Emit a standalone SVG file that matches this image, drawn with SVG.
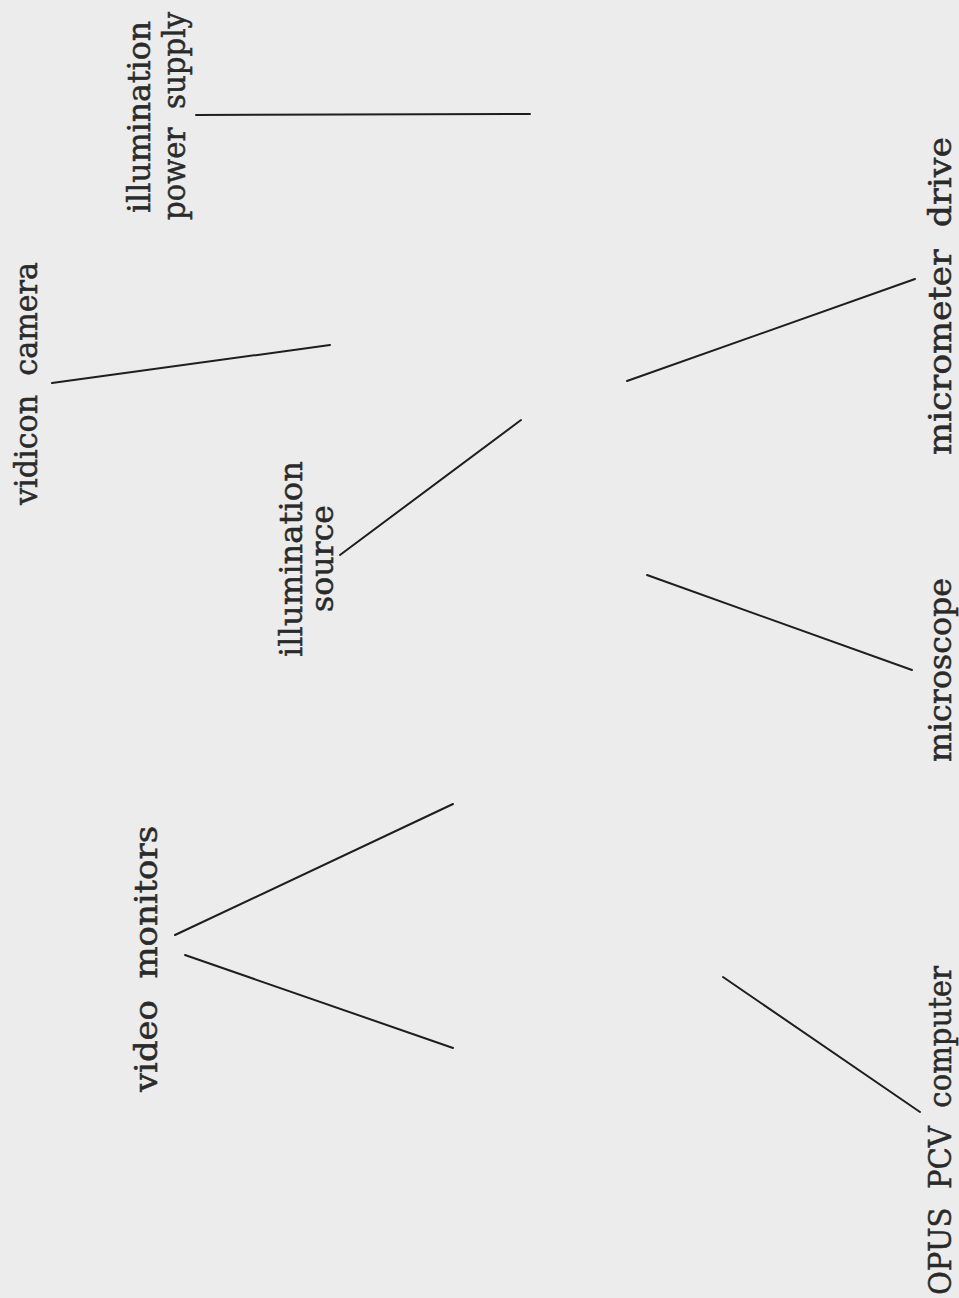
<svg xmlns="http://www.w3.org/2000/svg" width="959" height="1298" viewBox="0 0 959 1298">
<style>
.t{font-family:"DejaVu Serif","Liberation Serif",serif;font-size:32px;fill:#2a2a2a;stroke:#2a2a2a;stroke-width:0.5;white-space:pre}
.c line{stroke:#1e1e1e;stroke-width:2;stroke-linecap:round}
</style>
<rect width="959" height="1298" fill="#ececec"/>
<g id="illumination-power-supply">
<text class="t" transform="translate(150,213) rotate(-90)" textLength="192" lengthAdjust="spacingAndGlyphs">illumination</text>
<text class="t" transform="translate(185,220) rotate(-90)" textLength="208" lengthAdjust="spacingAndGlyphs" xml:space="preserve">power  supply</text>
</g>
<g id="vidicon-camera">
<text class="t" transform="translate(37,505) rotate(-90)" textLength="243" lengthAdjust="spacingAndGlyphs" xml:space="preserve">vidicon  camera</text>
</g>
<g id="illumination-source">
<text class="t" transform="translate(302,657) rotate(-90)" textLength="196" lengthAdjust="spacingAndGlyphs">illumination</text>
<text class="t" transform="translate(333,612) rotate(-90)" textLength="107" lengthAdjust="spacingAndGlyphs">source</text>
</g>
<g id="micrometer-drive">
<text class="t" transform="translate(951,455) rotate(-90)" textLength="318" lengthAdjust="spacingAndGlyphs" xml:space="preserve">micrometer  drive</text>
</g>
<g id="microscope">
<text class="t" transform="translate(951,762) rotate(-90)" textLength="184" lengthAdjust="spacingAndGlyphs">microscope</text>
</g>
<g id="video-monitors">
<text class="t" transform="translate(157,1092) rotate(-90)" textLength="266" lengthAdjust="spacingAndGlyphs" xml:space="preserve">video  monitors</text>
</g>
<g id="opus-pcv-computer">
<text class="t" transform="translate(951,1295) rotate(-90)" textLength="329" lengthAdjust="spacingAndGlyphs" xml:space="preserve">OPUS  PCV  computer</text>
</g>
<g class="c" id="connectors">
<line x1="196" y1="115" x2="530" y2="114"/>
<line x1="52" y1="383" x2="330" y2="345"/>
<line x1="340" y1="555" x2="521" y2="420"/>
<line x1="627" y1="381" x2="915" y2="279"/>
<line x1="647" y1="575" x2="912" y2="670"/>
<line x1="175" y1="935" x2="453" y2="804"/>
<line x1="185" y1="955" x2="453" y2="1048"/>
<line x1="723" y1="977" x2="920" y2="1112"/>
</g>
</svg>
